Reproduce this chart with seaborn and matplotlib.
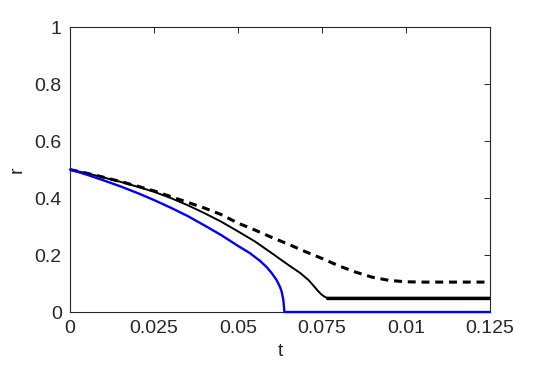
import pandas as pd
import matplotlib.pyplot as plt
import seaborn as sns

# values
t_blue = [0, 0.005, 0.01, 0.015, 0.02, 0.025, 0.03, 0.035, 0.04, 0.045, 0.05,
          0.0535, 0.0565, 0.0585, 0.06, 0.0615, 0.0625, 0.063, 0.0635, 0.0638, 0.125]
r_blue = [0.5, 0.482, 0.462, 0.441, 0.418, 0.393, 0.366, 0.337, 0.304, 0.27, 0.232,
          0.207, 0.18, 0.158, 0.137, 0.112, 0.088, 0.071, 0.042, 0.0, 0.0]

t_solid = [0, 0.005, 0.01, 0.015, 0.02, 0.025, 0.03, 0.035, 0.04, 0.045, 0.05,
           0.055, 0.06, 0.065, 0.0685, 0.071, 0.0725, 0.0738, 0.0748, 0.0757, 0.0765, 0.125]
r_solid = [0.5, 0.487, 0.472, 0.457, 0.44, 0.422, 0.40, 0.375, 0.347, 0.317, 0.283,
           0.248, 0.207, 0.165, 0.137, 0.112, 0.092, 0.074, 0.062, 0.054, 0.05, 0.05]

t_dash = [0, 0.005, 0.01, 0.015, 0.02, 0.025, 0.03, 0.035, 0.04, 0.045, 0.05,
          0.055, 0.06, 0.065, 0.07, 0.075, 0.08, 0.085, 0.09, 0.095, 0.1, 0.105, 0.125]
r_dash = [0.5, 0.487, 0.473, 0.458, 0.442, 0.425, 0.405, 0.385, 0.365, 0.342, 0.312,
          0.288, 0.262, 0.238, 0.212, 0.188, 0.162, 0.14, 0.122, 0.111, 0.106, 0.105, 0.105]

x_ticks = [0, 0.025, 0.05, 0.075, 0.1, 0.125]
x_tick_labels = ["0", "0.025", "0.05", "0.075", "0.01", "0.125"]
y_ticks = [0, 0.2, 0.4, 0.6, 0.8, 1]
y_tick_labels = ["0", "0.2", "0.4", "0.6", "0.8", "1"]

sns.set_style("white")
plt.rcParams['font.family'] = ['Liberation Sans', 'DejaVu Sans']
txt = "#262626"

fig = plt.figure(figsize=(5.44, 3.71), dpi=100)
ax = fig.add_axes([0.1287, 0.159, 0.772, 0.768])

blue = pd.DataFrame({"t": t_blue, "r": r_blue})
solid = pd.DataFrame({"t": t_solid, "r": r_solid})
dash = pd.DataFrame({"t": t_dash, "r": r_dash})

sns.lineplot(data=dash, x="t", y="r", ax=ax, color="black", lw=2.2,
             linestyle=(0, (2.6, 1.9)), sort=False, estimator=None)
sns.lineplot(data=solid, x="t", y="r", ax=ax, color="black", lw=1.4,
             sort=False, estimator=None)
# plateau of the solid curve is drawn heavier in the reference
sns.lineplot(x=t_solid[-2:], y=r_solid[-2:], ax=ax, color="black", lw=2.4,
             sort=False, estimator=None)
sns.lineplot(data=blue, x="t", y="r", ax=ax, color="#0000ff", lw=1.7,
             sort=False, estimator=None, zorder=3)
ax.lines[-1].set_clip_on(False)

ax.set_xlim(0, 0.125)
ax.set_ylim(0, 1)
ax.set_xticks(x_ticks)
ax.set_xticklabels(x_tick_labels)
ax.set_yticks(y_ticks)
ax.set_yticklabels(y_tick_labels)
ax.tick_params(direction="in", length=4, width=0.7, colors=txt, labelsize=14,
               top=True, right=True, pad=6)
ax.tick_params(axis="x", labeltop=False)
ax.tick_params(axis="y", labelright=False)
for s in ax.spines.values():
    s.set_color(txt)
    s.set_linewidth(0.8)
    s.set_visible(True)
ax.set_xlabel("t", fontsize=14, color=txt, labelpad=4)
ax.set_ylabel("r", fontsize=14, color=txt, labelpad=6)
ax.grid(False)

fig.savefig("out.png", dpi=100)
